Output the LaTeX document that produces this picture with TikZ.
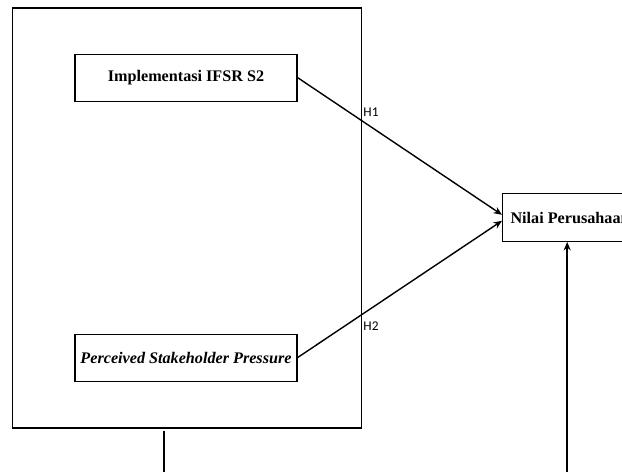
\documentclass[tikz,border=0pt]{standalone}
\usepackage{fontspec}
\setmainfont{Liberation Serif}
\newfontfamily\labelfont{Carlito}
\usepackage{tikz}
\usetikzlibrary{positioning,calc,arrows.meta}

\tikzset{
  varbox/.style={draw=black, line width=0.8pt, minimum width=5.55cm, minimum height=1.175cm, font=\fontsize{11.5}{13}\selectfont\bfseries},
  hlabel/.style={anchor=west, inner sep=0pt, font=\labelfont\fontsize{9.5}{11}\selectfont},
  path/.style={line width=1pt, -{Stealth[length=6pt,width=5pt]}},
  stem/.style={line width=1.5pt}
}

\begin{document}
\begin{tikzpicture}
\useasboundingbox (0,0) rectangle (15.55,11.8);
\draw[black, line width=0.8pt] (0.31,1.1) rectangle (9.03,11.6);
\node[varbox] (ifsr) at (4.65,9.86) {Implementasi IFSR S2};
\node[varbox] (psp) at (4.65,2.86) {\itshape Perceived Stakeholder Pressure};
\node[draw=black, line width=0.8pt, anchor=west, minimum height=1.19cm, inner sep=0.2cm,
  font=\fontsize{11.5}{13}\selectfont\bfseries] (nilai) at (12.55,6.36) {Nilai Perusahaan};
\coordinate (nilaiA) at ($(nilai.west)+(0,0.07)$);
\coordinate (nilaiB) at ($(nilai.west)+(0,-0.08)$);
\draw[path] (ifsr.east) -- (nilaiA);
\draw[path] (psp.east) -- (nilaiB);
\node[hlabel] (h1) at (9.08,9.0) {H1};
\node[hlabel] (h2) at (9.08,3.65) {H2};
% lines running off the bottom
\coordinate (stemtop) at (4.11,1.025);
\coordinate (stembot) at (4.11,0);
\draw[stem] (stemtop) -- (stembot);
\coordinate (mbot) at (14.18,0);
\draw[stem, -{Stealth[length=6pt,width=5pt]}] (mbot) -- (mbot |- nilai.south);
\end{tikzpicture}
\end{document}
